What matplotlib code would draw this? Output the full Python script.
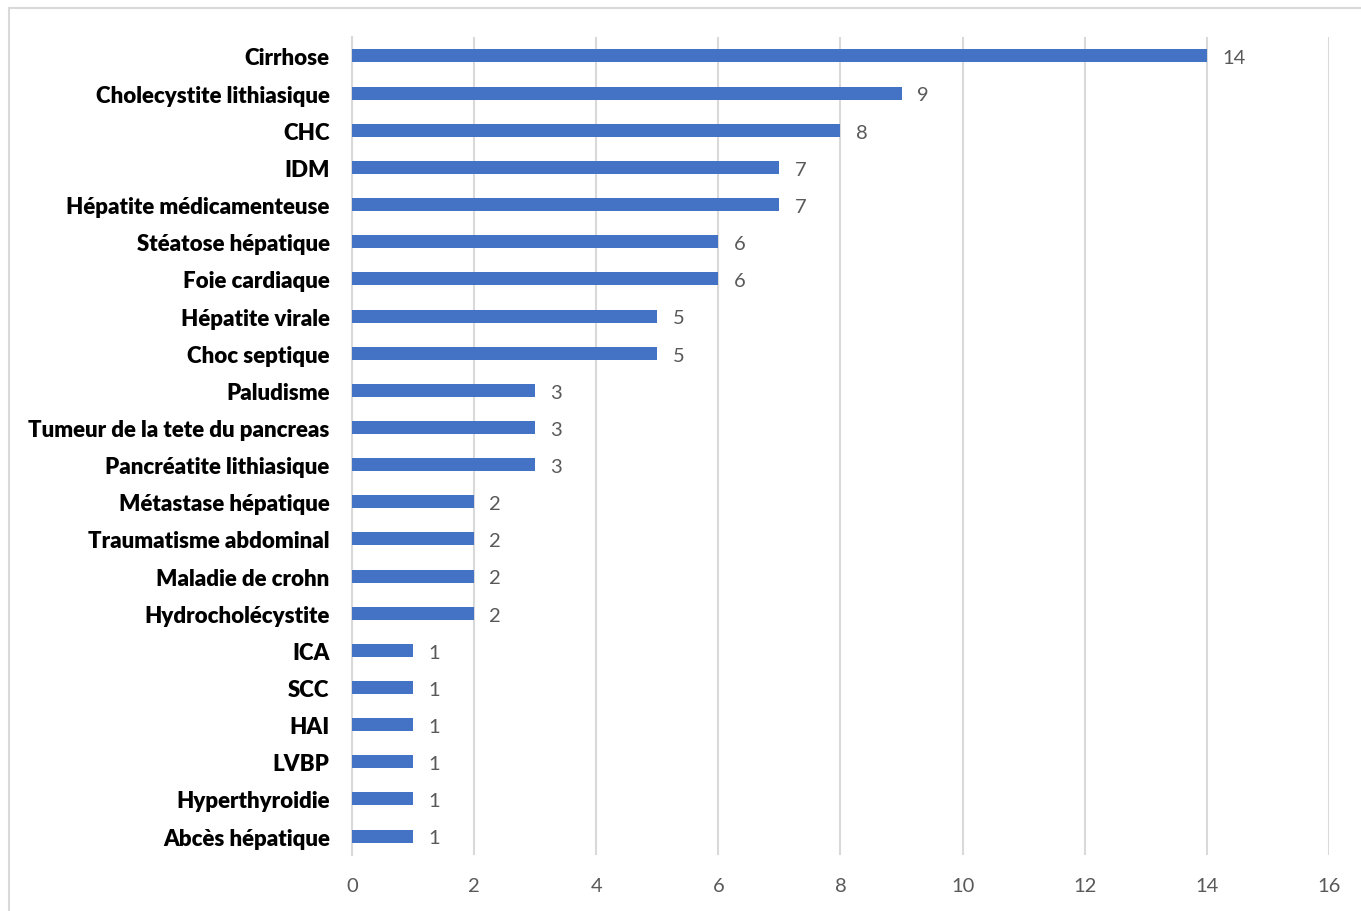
import matplotlib
matplotlib.use("Agg")
import matplotlib.pyplot as plt
from matplotlib.patches import Rectangle

plt.rcParams['font.family'] = ['Lato', 'DejaVu Sans']

categories = [
    "Cirrhose", "Cholecystite lithiasique", "CHC", "IDM",
    "Hépatite médicamenteuse", "Stéatose hépatique", "Foie cardiaque",
    "Hépatite virale", "Choc septique", "Paludisme",
    "Tumeur de la tete du pancreas", "Pancréatite lithiasique",
    "Métastase hépatique", "Traumatisme abdominal", "Maladie de crohn",
    "Hydrocholécystite", "ICA", "SCC", "HAI", "LVBP", "Hyperthyroidie",
    "Abcès hépatique",
]
counts = [14, 9, 8, 7, 7, 6, 6, 5, 5, 3, 3, 3, 2, 2, 2, 2, 1, 1, 1, 1, 1, 1]
xticks = [0, 2, 4, 6, 8, 10, 12, 14, 16]

BAR = "#4472C4"
GRID = "#D9D9D9"
TXT = "#595959"

fig = plt.figure(figsize=(13.61, 9.12), dpi=100)
ax = fig.add_axes([0.2586, 0.0618, 0.9765 - 0.2586, 0.9579 - 0.0618])

# outer chart frame (only left/top edges fall inside the image)
fig.patches.append(Rectangle((9 / 1361, -0.05), 1.2, 1 - 9 / 912 + 0.05,
                             transform=fig.transFigure, fill=False,
                             edgecolor="#D9D9D9", linewidth=1.5))

y = list(range(len(categories)))
ax.barh(y, counts, height=0.35, color=BAR, zorder=3)
for yi, v in zip(y, counts):
    ax.text(v + 0.25, yi + 0.05, str(v), va="center", ha="left",
            fontsize=14.5, color=TXT)

ax.set_ylim(len(categories) - 0.5, -0.5)
ax.set_xlim(0, 16)
ax.set_xticks(xticks)
ax.set_xticklabels([str(t) for t in xticks], fontsize=14.5, color=TXT)
ax.set_yticks(y)
ax.set_yticklabels(categories, fontsize=16, fontweight="heavy", color="black")
ax.tick_params(axis="both", length=0)
ax.tick_params(axis="x", pad=16)
ax.tick_params(axis="y", pad=16)

ax.grid(axis="x", color=GRID, linewidth=1.5, zorder=0)
for s in ["top", "right", "bottom"]:
    ax.spines[s].set_visible(False)
ax.spines["left"].set_color(GRID)
ax.spines["left"].set_linewidth(1.5)

fig.savefig("out.png", dpi=100)
